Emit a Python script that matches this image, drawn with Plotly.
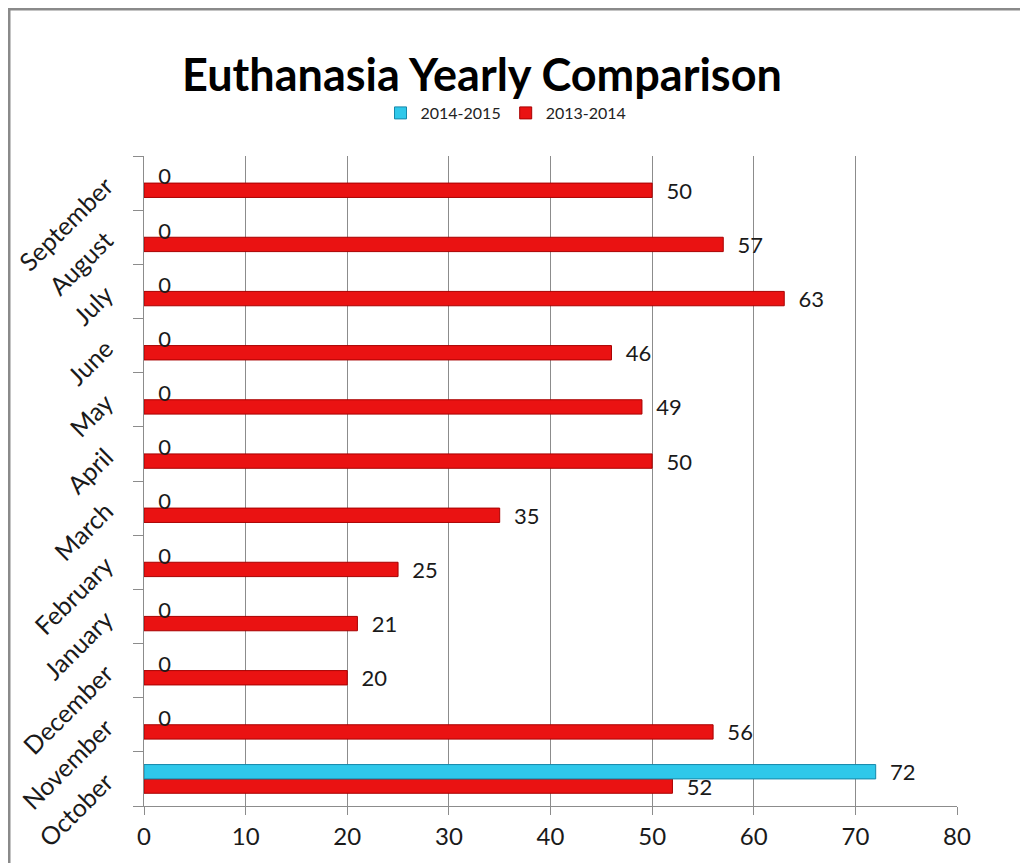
import plotly.graph_objects as go

months = ["October", "November", "December", "January", "February", "March",
          "April", "May", "June", "July", "August", "September"]
fy_2013_2014 = [52, 56, 20, 21, 25, 35, 50, 49, 46, 63, 57, 50]
fy_2014_2015 = [72, 0, 0, 0, 0, 0, 0, 0, 0, 0, 0, 0]
x_ticks = [0, 10, 20, 30, 40, 50, 60, 70, 80]

FONT = "Lato"
GRID = "#8c8c8c"
LABEL_SIZE = 22

def outline_widths(values):
    return [1 if v > 0 else 0 for v in values]

fig = go.Figure()
fig.add_trace(go.Bar(
    name="2013-2014", y=months, x=fy_2013_2014, orientation="h",
    marker=dict(color="#EA1212", line=dict(color="#A80000", width=outline_widths(fy_2013_2014))),
    texttemplate="\u00a0\u00a0%{x}", textposition="outside", constraintext="none",
    textfont=dict(family=FONT, size=LABEL_SIZE, color="#1a1a1a"),
    cliponaxis=False, legendrank=2,
))
fig.add_trace(go.Bar(
    name="2014-2015", y=months, x=fy_2014_2015, orientation="h",
    marker=dict(color="#2FC8EA", line=dict(color="#1688AA", width=outline_widths(fy_2014_2015))),
    texttemplate="\u00a0\u00a0%{x}", textposition="outside", constraintext="none",
    textfont=dict(family=FONT, size=LABEL_SIZE, color="#1a1a1a"),
    cliponaxis=False, legendrank=1,
))

# page is offset by 8px (body margin) -> work in figure coords = page - 8
OFF = 8
W, H = 1028 - OFF, 863 - OFF
L, R, T, B = 144 - OFF, 957 - OFF, 156 - OFF, 806 - OFF
pw, ph = R - L, B - T

def px(x):
    return (x - OFF - L) / pw

def py(y):
    return (B - (y - OFF)) / ph

fig.update_layout(
    width=W, height=H,
    margin=dict(l=L, r=W - R, t=T, b=H - B, autoexpand=False),
    paper_bgcolor="white", plot_bgcolor="white",
    barmode="group", bargap=0.47, bargroupgap=0,
    font=dict(family=FONT, color="#1a1a1a"),
    title=dict(text="<b>Euthanasia Yearly Comparison</b>",
               font=dict(family=FONT, size=45, color="black"),
               x=(482 - OFF) / W, xanchor="center", y=1 - (75 - OFF) / H, yanchor="middle"),
    legend=dict(orientation="h", x=px(506), xanchor="center", y=py(113), yanchor="middle",
                font=dict(family=FONT, size=16, color="#222"), itemwidth=30,
                traceorder="normal", bgcolor="rgba(0,0,0,0)"),
    xaxis=dict(range=[0, 80], tickvals=x_ticks, showgrid=True, gridcolor=GRID, gridwidth=1,
               zeroline=False, showline=True, linecolor=GRID, ticks="outside", ticklen=8,
               tickcolor=GRID, automargin=False, ticklabelstandoff=1,
               tickfont=dict(family=FONT, size=24, color="#1a1a1a")),
    yaxis=dict(categoryorder="array", categoryarray=months, showgrid=False, zeroline=False,
               showline=True, linecolor=GRID, ticks="outside", tickson="boundaries",
               ticklen=10, tickcolor=GRID, tickangle=-45, automargin=False,
               ticklabelstandoff=32,
               tickfont=dict(family=FONT, size=25, color="#1a1a1a")),
    shapes=[
        dict(type="line", xref="paper", yref="paper", x0=px(7), x1=px(1040), y0=py(9), y1=py(9),
             line=dict(color="#8a8a8a", width=3)),
        dict(type="line", xref="paper", yref="paper", x0=px(9), x1=px(9), y0=py(9), y1=py(880),
             line=dict(color="#8a8a8a", width=3)),
    ],
)

fig.write_html("out.html")
